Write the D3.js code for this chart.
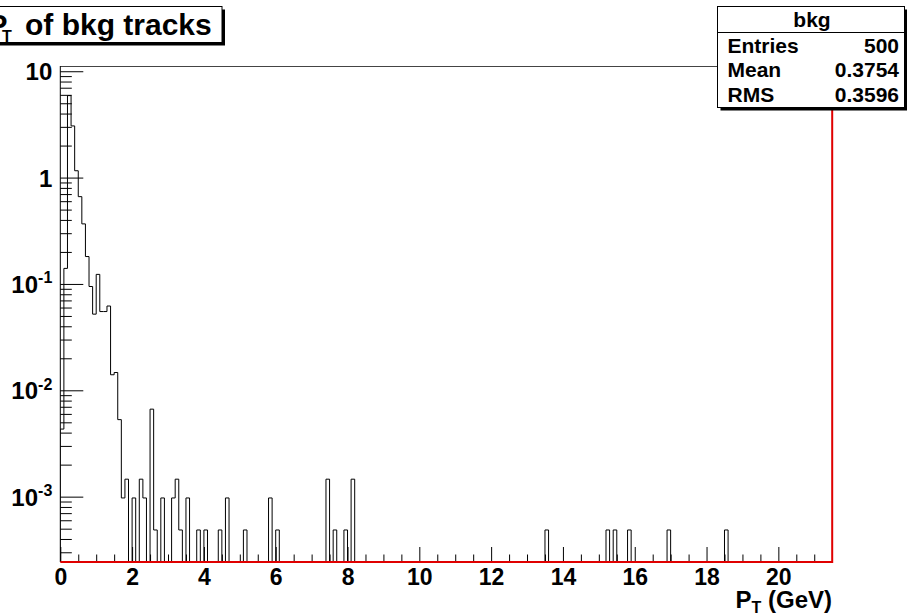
<!DOCTYPE html>
<html>
<head>
<meta charset="utf-8">
<script src="https://cdn.jsdelivr.net/npm/d3@7"></script>
<style>
  body { margin: 0; background: #fff; }
  svg { display: block; }
  text { font-family: "Liberation Sans", Arial, Helvetica, sans-serif; font-weight: bold; fill: #000; }
</style>
</head>
<body>
<svg id="chart" width="907" height="616"></svg>
<script>
// Histogram binning (GeV)
const binWidth = 0.1;
const xMax = 21.5;

// Non-empty bins: lower bin edge (GeV) and normalized bin content
const binLowEdges = [
  0.0, 0.1, 0.2, 0.3, 0.4, 0.5, 0.6, 0.7, 0.8, 0.9,
  1.0, 1.1, 1.2, 1.3, 1.4, 1.5, 1.6, 1.7, 1.8,
  2.0, 2.2, 2.3, 2.5, 2.6, 2.8,
  3.1, 3.2, 3.3, 3.5, 3.8,
  4.0, 4.4, 4.6, 5.1, 5.8, 6.0,
  7.4, 7.6, 7.9, 8.1,
  13.5, 15.2, 15.4, 15.8, 16.9, 18.5
];
const binContents = [
  0.00432, 0.14, 5.9, 3.06, 1.16, 0.662, 0.367, 0.181, 0.0946, 0.052,
  0.123, 0.055, 0.055, 0.062, 0.014, 0.0147, 0.0053, 0.000972, 0.00146,
  0.000972, 0.00146, 0.000972, 0.00665, 0.000486, 0.000972,
  0.000972, 0.00146, 0.000486, 0.000972, 0.000486,
  0.000486, 0.000486, 0.000972, 0.000486, 0.000972, 0.000486,
  0.00146, 0.000486, 0.000486, 0.00146,
  0.000486, 0.000486, 0.000486, 0.000486, 0.000486, 0.000486
];

// Axis ticks and labels
const xMajorTicks = [0, 2, 4, 6, 8, 10, 12, 14, 16, 18, 20];
const yMajorTicks = [10, 1, 0.1, 0.01, 0.001];
const yTickBases = ["10", "1", "10", "10", "10"];
const yTickExponents = ["", "", "-1", "-2", "-3"];

// Statistics box
const statsTitle = "bkg";
const statsNames = ["Entries", "Mean", "RMS"];
const statsValues = ["500", "0.3754", "0.3596"];

const svg = d3.select("#chart");
const frame = { left: 60.3, right: 832.2, top: 66, bottom: 562 };

const x = d3.scaleLinear().domain([0, xMax]).range([frame.left, frame.right]);
const y = d3.scaleLog().domain([2.43e-4, 11.2]).range([frame.bottom, frame.top]);

svg.append("clipPath").attr("id", "frameClip")
  .append("rect")
  .attr("x", frame.left).attr("y", frame.top)
  .attr("width", frame.right - frame.left).attr("height", frame.bottom - frame.top);

// top frame edge
svg.append("line")
  .attr("x1", frame.left).attr("x2", frame.right)
  .attr("y1", frame.top + 0.5).attr("y2", frame.top + 0.5)
  .attr("stroke", "#444").attr("stroke-width", 1);

// full bin table (empty bins hold 0)
const nBins = Math.round(xMax / binWidth);
const contents = new Array(nBins).fill(0);
binLowEdges.forEach((e, i) => { contents[Math.round(e / binWidth)] = binContents[i]; });

// histogram outline as a step path
const yPos = v => v > 0 ? Math.max(frame.top, Math.min(frame.bottom, y(v))) : frame.bottom;
const p = d3.path();
p.moveTo(x(0), frame.bottom);
contents.forEach((v, i) => {
  const yy = yPos(v);
  p.lineTo(x(i * binWidth), yy);
  p.lineTo(x((i + 1) * binWidth), yy);
});
p.lineTo(x(xMax), frame.bottom);
svg.append("path")
  .attr("d", p.toString())
  .attr("clip-path", "url(#frameClip)")
  .attr("fill", "none").attr("stroke", "#000").attr("stroke-width", 1);

// X axis: major ticks with labels, minor ticks every 0.5
const xMinor = d3.range(0, xMax, 0.5).filter(v => v % 2 !== 0);
svg.append("g")
  .attr("transform", `translate(0,${frame.bottom})`)
  .call(d3.axisBottom(x).tickValues(xMinor).tickSize(-7.5).tickSizeOuter(0).tickFormat(""))
  .call(g => g.select(".domain").remove())
  .call(g => g.selectAll("line").attr("stroke", "#000"));
svg.append("g")
  .attr("transform", `translate(0,${frame.bottom})`)
  .call(d3.axisBottom(x).tickValues(xMajorTicks).tickSize(-15).tickSizeOuter(0).tickPadding(7).tickFormat(d3.format("d")))
  .call(g => g.select(".domain").remove())
  .call(g => g.selectAll("line").attr("stroke", "#000"))
  .call(g => g.selectAll("text").attr("font-size", "23px").attr("font-family", null).attr("fill", "#000"));

// Y axis: decades with labels, minor ticks at 2..9 x decade
const yMinor = y.ticks().filter(v => {
  const l = Math.log10(v);
  return Math.abs(l - Math.round(l)) > 1e-6;
});
svg.append("g")
  .attr("transform", `translate(${frame.left},0)`)
  .call(d3.axisLeft(y).tickValues(yMinor).tickSize(-11.5).tickSizeOuter(0).tickFormat(""))
  .call(g => g.select(".domain").remove())
  .call(g => g.selectAll("line").attr("stroke", "#000"));
const yAxis = svg.append("g")
  .attr("transform", `translate(${frame.left},0)`)
  .call(d3.axisLeft(y).tickValues(yMajorTicks).tickSize(-23).tickSizeOuter(0).tickPadding(8).tickFormat(""))
  .call(g => g.select(".domain").remove())
  .call(g => g.selectAll("line").attr("stroke", "#000"));
yAxis.selectAll(".tick text").each(function (d, i) {
  const t = d3.select(this).attr("font-size", "24px").attr("font-family", null).attr("dy", "0.36em");
  t.append("tspan").text(yTickBases[i]);
  if (yTickExponents[i]) {
    t.append("tspan").attr("font-size", "16px").attr("dy", "-0.6em").text(yTickExponents[i]);
  }
});

// left axis line
svg.append("line")
  .attr("x1", frame.left).attr("x2", frame.left)
  .attr("y1", frame.top).attr("y2", frame.bottom)
  .attr("stroke", "#000").attr("stroke-width", 1);

// red outline along the bottom and the right edge
svg.append("path")
  .attr("d", d3.line()([[x(0), frame.bottom], [x(xMax), frame.bottom], [x(xMax), frame.top]]))
  .attr("fill", "none").attr("stroke", "#e00000").attr("stroke-width", 2);

// X axis title
const xTitle = svg.append("text").attr("x", 832).attr("y", 608).attr("text-anchor", "end").attr("font-size", "24px");
xTitle.append("tspan").text("P");
xTitle.append("tspan").attr("font-size", "16px").attr("dy", "5").text("T");
xTitle.append("tspan").attr("dy", "-5").text(" (GeV)");

// Title box with shadow
svg.append("rect").attr("x", -20).attr("y", 9.5).attr("width", 245).attr("height", 36).attr("fill", "#000");
svg.append("rect").attr("x", -20).attr("y", 6.5).attr("width", 242).attr("height", 36)
  .attr("fill", "#fff").attr("stroke", "#000").attr("stroke-width", 1);
svg.append("text").attr("x", 7.5).attr("y", 35).attr("text-anchor", "end").attr("font-size", "30px").text("P");
svg.append("text").attr("x", 2).attr("y", 42).attr("font-size", "16px").text("T");
svg.append("text").attr("x", 25).attr("y", 35).attr("font-size", "30px").text("of bkg tracks");

// Statistics box with shadow
const sb = { x: 717.5, y: 6.5, w: 187, h: 101 };
svg.append("rect").attr("x", sb.x + 3).attr("y", sb.y + 3).attr("width", sb.w).attr("height", sb.h).attr("fill", "#000");
svg.append("rect").attr("x", sb.x).attr("y", sb.y).attr("width", sb.w).attr("height", sb.h)
  .attr("fill", "#fff").attr("stroke", "#000").attr("stroke-width", 1);
svg.append("line").attr("x1", sb.x).attr("x2", sb.x + sb.w).attr("y1", 32.5).attr("y2", 32.5).attr("stroke", "#000");
svg.append("text").attr("x", 812).attr("y", 27).attr("text-anchor", "middle").attr("font-size", "21px").text(statsTitle);
const rowBase = [52.7, 76.7, 101.5];
statsNames.forEach((n, i) => {
  svg.append("text").attr("x", 727.5).attr("y", rowBase[i]).attr("font-size", "21px").text(n);
  svg.append("text").attr("x", 899).attr("y", rowBase[i]).attr("text-anchor", "end").attr("font-size", "21px").text(statsValues[i]);
});
</script>
</body>
</html>
